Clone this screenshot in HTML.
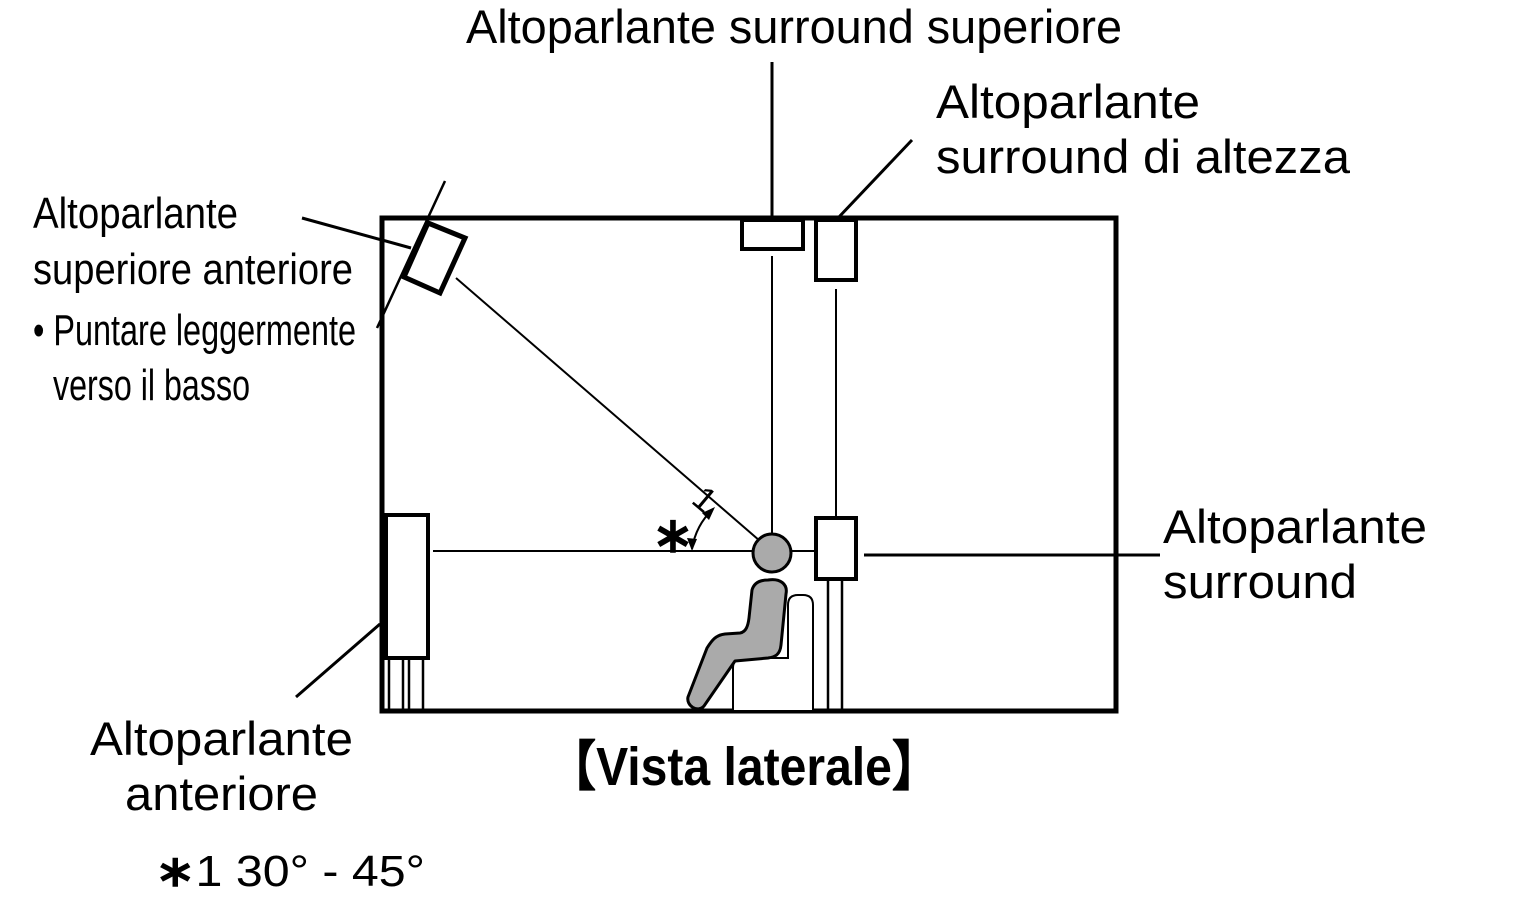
<!DOCTYPE html>
<html><head><meta charset="utf-8"><style>html,body{margin:0;padding:0;background:#fff}svg{display:block}</style></head>
<body>
<svg width="1525" height="923" viewBox="0 0 1525 923" xmlns="http://www.w3.org/2000/svg" font-family="Liberation Sans, Arial, sans-serif" fill="#000">
<rect x="382" y="218" width="734" height="493" fill="none" stroke="#000" stroke-width="5"/>
<line x1="772" y1="62" x2="772" y2="220" stroke="#000" stroke-width="3"/>
<rect x="742" y="220" width="61" height="29" fill="#fff" stroke="#000" stroke-width="4"/>
<line x1="772" y1="256" x2="772" y2="537" stroke="#000" stroke-width="2"/>
<line x1="838" y1="218" x2="912" y2="140" stroke="#000" stroke-width="3"/>
<rect x="816" y="220" width="40" height="60" fill="#fff" stroke="#000" stroke-width="4"/>
<line x1="836" y1="289" x2="836" y2="518" stroke="#000" stroke-width="2"/>
<line x1="790" y1="551" x2="816" y2="551" stroke="#000" stroke-width="2"/>
<line x1="828" y1="579" x2="828" y2="710" stroke="#000" stroke-width="2.5"/>
<line x1="842" y1="579" x2="842" y2="710" stroke="#000" stroke-width="2.5"/>
<rect x="816" y="518" width="40" height="61" fill="#fff" stroke="#000" stroke-width="4"/>
<line x1="864" y1="555" x2="1160" y2="555" stroke="#000" stroke-width="3"/>
<rect x="386" y="515" width="42" height="143" fill="#fff" stroke="#000" stroke-width="4"/>
<g stroke="#000" stroke-width="2.5"><line x1="389" y1="658" x2="389" y2="710"/><line x1="403" y1="658" x2="403" y2="710"/><line x1="409" y1="658" x2="409" y2="710"/><line x1="423" y1="658" x2="423" y2="710"/></g>
<line x1="296" y1="697" x2="380" y2="624" stroke="#000" stroke-width="3"/>
<line x1="433" y1="551" x2="755" y2="551" stroke="#000" stroke-width="2"/>
<line x1="302" y1="218" x2="411" y2="248" stroke="#000" stroke-width="3"/>
<line x1="445" y1="181" x2="377" y2="328" stroke="#000" stroke-width="2.5"/>
<polygon points="428,223 465,238 440,293 404,277" fill="#fff" stroke="#000" stroke-width="5"/>
<line x1="456" y1="278" x2="760" y2="541" stroke="#000" stroke-width="2"/>
<path d="M692,549 A70,70 0 0 1 713,509" fill="none" stroke="#000" stroke-width="2"/>
<polygon points="692,551 687,538 697,539" fill="#000"/>
<polygon points="715,507 702,513 709,520" fill="#000"/>
<text x="652" y="552" font-size="50" font-weight="bold">∗</text>
<text x="0" y="0" font-size="34" transform="translate(690,502) rotate(40)">1</text>
<path d="M733,710 L733,668 Q733,658 743,658 L788,658 L788,605 Q788,595 798,595 L803,595 Q813,595 813,605 L813,710" fill="#fff" stroke="#000" stroke-width="2"/>
<path d="M768,580 C780,578 788,584 786,594 L781,645 C780,655 775,657 768,658 L735,661 L704,706 C698,713 686,706 688,697 L707,648 C712,640 716,635 725,634 L740,633 C746,632 748,626 749,618 L752,590 C754,583 760,580 768,580 Z" fill="#aaa" stroke="#000" stroke-width="3" stroke-linejoin="round"/>
<circle cx="772" cy="553" r="19" fill="#aaa" stroke="#000" stroke-width="3"/>
<text x="466" y="43" font-size="47" textLength="656" lengthAdjust="spacingAndGlyphs">Altoparlante surround superiore</text>
<text x="936" y="118" font-size="47" textLength="264" lengthAdjust="spacingAndGlyphs">Altoparlante</text>
<text x="936" y="173" font-size="47" textLength="414" lengthAdjust="spacingAndGlyphs">surround di altezza</text>
<text x="33" y="228" font-size="44" textLength="205" lengthAdjust="spacingAndGlyphs">Altoparlante</text>
<text x="33" y="284" font-size="44" textLength="320" lengthAdjust="spacingAndGlyphs">superiore anteriore</text>
<text x="33" y="345" font-size="44" textLength="323" lengthAdjust="spacingAndGlyphs">• Puntare leggermente</text>
<text x="53" y="400" font-size="44" textLength="197" lengthAdjust="spacingAndGlyphs">verso il basso</text>
<text x="1163" y="543" font-size="47" textLength="264" lengthAdjust="spacingAndGlyphs">Altoparlante</text>
<text x="1163" y="598" font-size="47" textLength="194" lengthAdjust="spacingAndGlyphs">surround</text>
<text x="90" y="755" font-size="47" textLength="263" lengthAdjust="spacingAndGlyphs">Altoparlante</text>
<text x="125" y="810" font-size="47" textLength="193" lengthAdjust="spacingAndGlyphs">anteriore</text>
<text x="548" y="785" font-size="54" font-weight="bold" textLength="392" lengthAdjust="spacingAndGlyphs">【Vista laterale】</text>
<text x="155" y="886" font-size="44" textLength="270" lengthAdjust="spacingAndGlyphs"><tspan font-weight="bold">∗</tspan>1 30° - 45°</text>
</svg>
</body></html>
